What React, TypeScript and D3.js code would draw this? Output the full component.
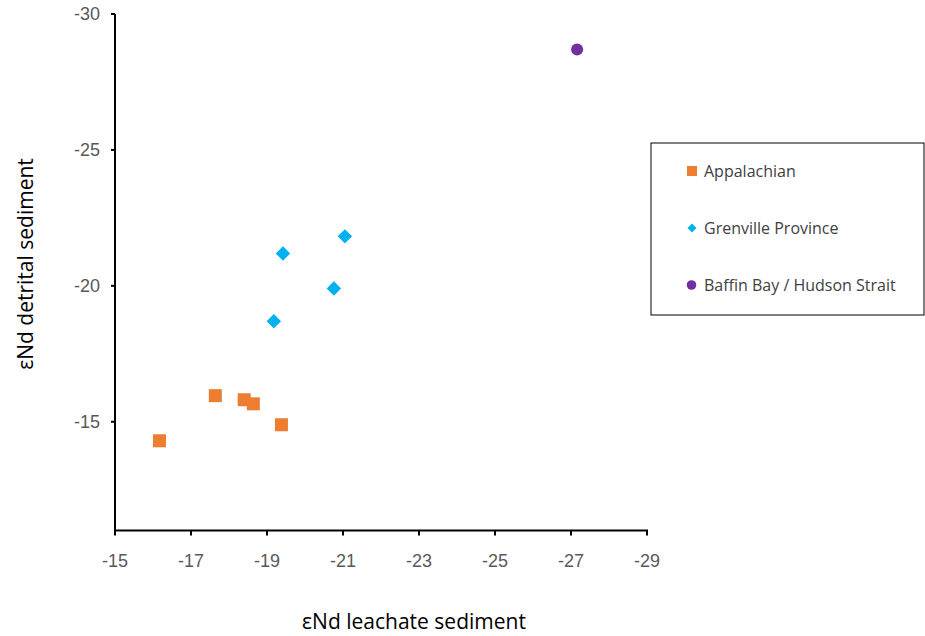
import React from "react";
import * as d3 from "d3";

// Leachate vs detrital εNd for the sediment source groups
const appalachianX = [-16.17, -17.64, -18.4, -18.64, -19.38];
const appalachianY = [-14.3, -15.96, -15.81, -15.66, -14.89];
const grenvilleX = [-21.05, -19.42, -20.76, -19.18];
const grenvilleY = [-21.82, -21.19, -19.9, -18.7];
const baffinX = [-27.16];
const baffinY = [-28.69];

const xTicks = [-15, -17, -19, -21, -23, -25, -27, -29];
const yTicks = [-30, -25, -20, -15];

const seriesNames = ["Appalachian", "Grenville Province", "Baffin Bay / Hudson Strait"];
const seriesColors = ["#ED7D31", "#00B0F0", "#7030A0"];

const W = 925;
const H = 636;

export default function App() {
  const x = d3.scaleLinear().domain([-15, -29]).range([115, 647]);
  const y = d3.scaleLinear().domain([-11, -30]).range([530.5, 14]);

  const tickFont = "'Liberation Sans', Arial, sans-serif";
  const labelFont = "'Open Sans', 'Noto Sans', sans-serif";

  const sq = 13;
  const dia = 7.2;
  const circR = 6;

  const legendX = 651;
  const legendY = 143;
  const legendRows = [171, 228, 285];

  return (
    <svg
      width={W}
      height={H}
      style={{ position: "absolute", left: 0, top: 0, background: "#fff" }}
      fontFamily={tickFont}
    >
      {/* axes */}
      <line x1={x(-15)} x2={x(-15)} y1={y(-30)} y2={y(-11)} stroke="#000" strokeWidth={2} />
      <line x1={x(-15) - 1} x2={x(-29) + 1} y1={y(-11)} y2={y(-11)} stroke="#000" strokeWidth={2} />

      {yTicks.map((t) => (
        <g key={"y" + t}>
          <line x1={x(-15) - 4} x2={x(-15)} y1={y(t)} y2={y(t)} stroke="#000" strokeWidth={2} />
          <text
            x={x(-15) - 15}
            y={y(t)}
            dy="0.35em"
            textAnchor="end"
            fontSize={18}
            fill="#595959"
          >
            {t}
          </text>
        </g>
      ))}
      {xTicks.map((t) => (
        <g key={"x" + t}>
          <line x1={x(t)} x2={x(t)} y1={y(-11)} y2={y(-11) + 5} stroke="#000" strokeWidth={2} />
          <text x={x(t)} y={567} textAnchor="middle" fontSize={18} fill="#595959">
            {t}
          </text>
        </g>
      ))}

      {/* axis titles */}
      <text
        x={414}
        y={629}
        textAnchor="middle"
        fontSize={21}
        fontFamily={labelFont}
        fill="#000"
      >
        εNd leachate sediment
      </text>
      <text
        transform={`translate(33,${264}) rotate(-90)`}
        textAnchor="middle"
        fontSize={21}
        fontFamily={labelFont}
        fill="#000"
      >
        εNd detrital sediment
      </text>

      {/* Appalachian */}
      {appalachianX.map((v, i) => (
        <rect
          key={"a" + i}
          x={x(v) - sq / 2}
          y={y(appalachianY[i]) - sq / 2}
          width={sq}
          height={sq}
          fill={seriesColors[0]}
        />
      ))}
      {/* Grenville Province */}
      {grenvilleX.map((v, i) => {
        const cx = x(v);
        const cy = y(grenvilleY[i]);
        return (
          <path
            key={"g" + i}
            d={`M${cx},${cy - dia}L${cx + dia},${cy}L${cx},${cy + dia}L${cx - dia},${cy}Z`}
            fill={seriesColors[1]}
          />
        );
      })}
      {/* Baffin Bay / Hudson Strait */}
      {baffinX.map((v, i) => (
        <circle key={"b" + i} cx={x(v)} cy={y(baffinY[i])} r={circR} fill={seriesColors[2]} />
      ))}

      {/* legend */}
      <rect
        x={legendX}
        y={legendY}
        width={273}
        height={172}
        fill="#fff"
        stroke="#000"
        strokeWidth={1}
      />
      <rect x={687} y={legendRows[0] - 5} width={10} height={10} fill={seriesColors[0]} />
      <path
        d={`M692,${legendRows[1] - 4.5}L696.5,${legendRows[1]}L692,${legendRows[1] + 4.5}L687.5,${legendRows[1]}Z`}
        fill={seriesColors[1]}
      />
      <circle cx={691.5} cy={legendRows[2]} r={4.8} fill={seriesColors[2]} />
      {seriesNames.map((n, i) => (
        <text
          key={n}
          x={704}
          y={legendRows[i]}
          dy="0.35em"
          fontSize={16}
          fontFamily={labelFont}
          fill="#404040"
        >
          {n}
        </text>
      ))}
    </svg>
  );
}
